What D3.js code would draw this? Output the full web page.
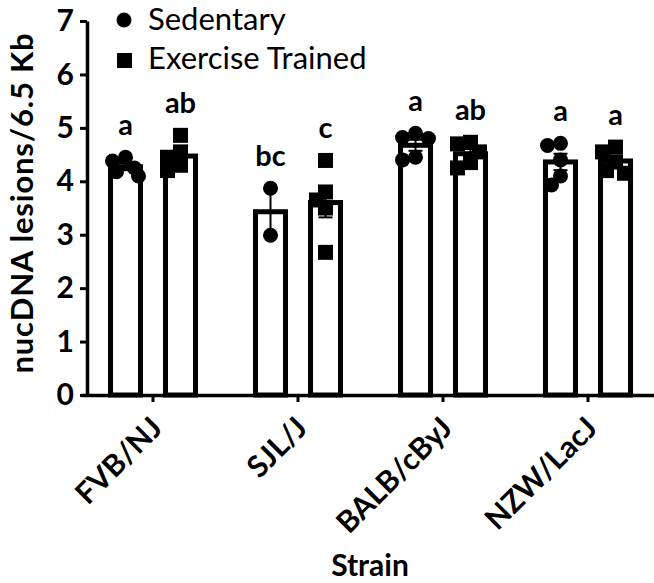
<!DOCTYPE html>
<html>
<head>
<meta charset="utf-8">
<script src="https://cdn.jsdelivr.net/npm/d3@7"></script>
<style>
  body { margin: 0; background: #fff; }
  svg { display: block; font-family: Lato, "Open Sans", sans-serif; }
</style>
</head>
<body>
<div id="plot-container"></div>
<script>
// Strains on the x axis
const strains = ["FVB/NJ", "SJL/J", "BALB/cByJ", "NZW/LacJ"];
const groups = ["Sedentary", "Exercise Trained"];

// Individual animals
const sedentary = [
  [4.45, 4.38, 4.25, 4.18, 4.10],
  [3.87, 2.99],
  [4.90, 4.82, 4.80, 4.45, 4.40],
  [4.71, 4.67, 4.40, 4.10, 3.93]
];
const exercise = [
  [4.86, 4.55, 4.45, 4.30, 4.20],
  [4.39, 3.80, 3.65, 3.50, 2.67],
  [4.73, 4.70, 4.55, 4.35, 4.25],
  [4.64, 4.55, 4.36, 4.20, 4.15]
];
// Significance letters
const sedLetters = ["a", "bc", "a", "a"];
const exLetters = ["ab", "c", "ab", "a"];
const yTicks = [0, 1, 2, 3, 4, 5, 6, 7];

const width = 654, height = 583;
const margin = { top: 21, right: 0, bottom: 188, left: 87 };

const svg = d3.select("#plot-container").append("svg")
  .attr("width", width).attr("height", height);

const y = d3.scaleLinear().domain([0, 7]).range([height - margin.bottom, margin.top]);
const x = d3.scaleBand().domain(strains).range([80.5, 660.5]);
const xSub = d3.scaleBand().domain(groups).range([-55, 55]);

const barW = 30;
const rPt = 7.5;

// mean / sem
function stats(vals) {
  const m = d3.mean(vals);
  const sd = d3.deviation(vals);
  return { mean: m, sem: sd / Math.sqrt(vals.length) };
}

// tiny beeswarm so the symbols spread sideways like the prism plot
function swarm(vals) {
  const placed = [];
  const order = vals.map((v, i) => [v, i]).sort((a, b) => b[0] - a[0]);
  const cands = [0, -9, 9, -13, 13];
  const out = new Array(vals.length).fill(0);
  order.forEach(([v, i]) => {
    const py = y(v);
    let best = 0;
    for (const dx of cands) {
      const ok = placed.every(p => Math.hypot(p.dx - dx, p.py - py) > 11);
      if (ok) { best = dx; break; }
      best = dx;
    }
    placed.push({ dx: best, py: py });
    out[i] = best;
  });
  return out;
}

const series = [];
strains.forEach((s, i) => {
  [[groups[0], sedentary[i], sedLetters[i]], [groups[1], exercise[i], exLetters[i]]].forEach(([g, vals, letter]) => {
    const st = stats(vals);
    series.push({ strain: s, group: g, vals: vals, letter: letter, mean: st.mean, sem: st.sem,
                  cx: x(s) + x.bandwidth() / 2 + xSub(g) + xSub.bandwidth() / 2 });
  });
});

// Bars
svg.append("g").selectAll("rect")
  .data(series).enter().append("rect")
  .attr("x", d => d.cx - barW / 2)
  .attr("y", d => y(d.mean))
  .attr("width", barW)
  .attr("height", d => y(0) - y(d.mean))
  .attr("fill", "#fff")
  .attr("stroke", "#000")
  .attr("stroke-width", 5);

// Points
series.forEach(d => {
  const offs = swarm(d.vals);
  const g = svg.append("g");
  d.vals.forEach((v, i) => {
    if (d.group === groups[0]) {
      g.append("circle").attr("cx", d.cx + offs[i]).attr("cy", y(v)).attr("r", rPt).attr("fill", "#000");
    } else {
      g.append("rect").attr("x", d.cx + offs[i] - rPt).attr("y", y(v) - rPt)
        .attr("width", rPt * 2).attr("height", rPt * 2).attr("fill", "#000");
    }
  });
});

// Error bars (mean +/- SEM)
const eb = svg.append("g").attr("stroke", "#000").attr("stroke-width", 2);
series.forEach(d => {
  eb.append("line").attr("x1", d.cx).attr("x2", d.cx).attr("y1", y(d.mean - d.sem)).attr("y2", y(d.mean + d.sem));
  eb.append("line").attr("x1", d.cx - 7).attr("x2", d.cx + 7).attr("y1", y(d.mean + d.sem)).attr("y2", y(d.mean + d.sem));
  eb.append("line").attr("x1", d.cx - 7).attr("x2", d.cx + 7).attr("y1", y(d.mean - d.sem)).attr("y2", y(d.mean - d.sem));
});

// Letters above the highest symbol
svg.append("g").selectAll("text")
  .data(series).enter().append("text")
  .attr("x", d => d.cx)
  .attr("y", d => y(d3.max(d.vals)) - 22)
  .attr("text-anchor", "middle")
  .attr("font-size", 29).attr("font-weight", "bold")
  .text(d => d.letter);

// Axes
const yAxis = svg.append("g")
  .attr("transform", `translate(${margin.left},0)`)
  .call(d3.axisLeft(y).tickValues(yTicks).tickSize(7).tickSizeOuter(0).tickPadding(6).tickFormat(d3.format("d")));
yAxis.select(".domain").attr("stroke-width", 3.5);
yAxis.selectAll(".tick line").attr("stroke-width", 3);
yAxis.selectAll("text").attr("font-size", 30).attr("font-weight", "bold").attr("font-family", "Lato").attr("fill", "#000");

const xAxis = svg.append("g")
  .attr("transform", `translate(0,${y(0)})`)
  .call(d3.axisBottom(x).tickSize(7).tickSizeOuter(0).tickFormat(""));
xAxis.select(".domain").attr("stroke-width", 3.5);
xAxis.selectAll(".tick line").attr("stroke-width", 3);

svg.append("g").selectAll("text")
  .data(strains).enter().append("text")
  .attr("transform", d => `translate(${x(d) + x.bandwidth() / 2 + 11},${y(0) + 35}) rotate(-45)`)
  .attr("text-anchor", "end")
  .attr("font-size", 30).attr("font-weight", "bold")
  .text(d => d);

// Axis titles
svg.append("text")
  .attr("transform", `translate(${33},${203}) rotate(-90)`)
  .attr("text-anchor", "middle")
  .attr("font-size", 31).attr("font-weight", "bold")
  .attr("letter-spacing", 0.8)
  .text("nucDNA lesions/6.5 Kb");

svg.append("text")
  .attr("x", 370).attr("y", 576)
  .attr("text-anchor", "middle")
  .attr("font-size", 30).attr("font-weight", "bold")
  .text("Strain");

// Legend
const leg = svg.append("g");
leg.append("circle").attr("cx", 124).attr("cy", 20).attr("r", 7.5).attr("fill", "#000");
leg.append("rect").attr("x", 117).attr("y", 53).attr("width", 15).attr("height", 15).attr("fill", "#000");
leg.selectAll("text").data(groups).enter().append("text")
  .attr("x", 148).attr("y", (d, i) => 30 + i * 39)
  .attr("font-size", 31)
  .text(d => d);
</script>
</body>
</html>
